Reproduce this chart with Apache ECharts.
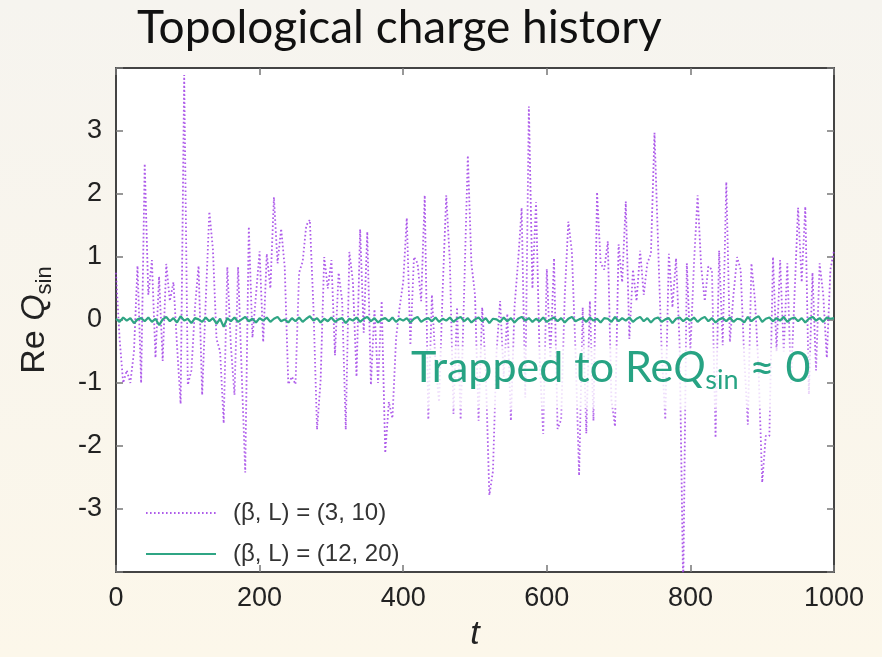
<!DOCTYPE html>
<html>
<head>
<meta charset="utf-8">
<script src="https://cdn.jsdelivr.net/npm/echarts@6/dist/echarts.min.js"></script>
<style>
html,body{margin:0;padding:0;}
#c{width:882px;height:657px;}
</style>
</head>
<body>
<div id="c"></div>
<script>
const T_STEP = 5;
const seriesNames = ['(β, L) = (3, 10)', '(β, L) = (12, 20)'];
const xTicks = [0, 200, 400, 600, 800, 1000];
const yTicks = [-3, -2, -1, 0, 1, 2, 3];

const qBeta3 = [
0.75,-0.3,-1.0,-0.8,-1.0,-0.5,0.86,-1.0,2.48,0.4,
0.95,-0.6,0.69,-0.65,0.89,0.3,0.6,-0.4,-1.33,3.89,
-1.03,-0.8,0.2,0.86,-1.19,0.3,1.72,1.12,-0.3,-0.5,
-1.64,0.84,-0.4,-1.19,0.84,-0.8,-2.42,1.48,-0.28,0.4,
1.09,-0.35,1.05,0.5,1.95,0.9,1.45,0.84,-1.02,-0.9,
-1.02,0.75,0.93,1.5,1.59,0.2,-1.74,-0.95,1.0,0.5,
0.95,-0.56,0.75,0.3,-1.74,1.08,0.6,-0.9,1.44,-0.2,
1.4,-1.03,0.17,-1.0,0.3,-2.11,-1.3,-1.56,-0.3,0.2,
0.6,1.62,-0.4,1.0,0.9,0.3,1.98,-1.58,0.4,-0.7,
-1.3,0.5,1.98,0.93,-1.49,0.2,-1.58,0.5,2.61,0.9,
0.4,-1.6,0.2,-0.8,-2.78,-2.4,-0.5,0.3,-0.9,0.1,
-1.6,0.2,0.93,1.78,-1.23,3.39,0.5,1.87,-0.6,-1.81,
0.81,-0.6,0.98,-1.73,-1.58,0.4,1.56,1.08,-0.5,-2.47,
0.2,-1.8,0.3,-1.6,2.03,0.9,0.8,1.25,-1.27,-1.69,
1.2,0.6,1.88,-0.3,0.8,0.3,1.1,0.4,0.9,1.05,
2.97,1.2,-0.5,-1.58,1.05,0.2,0.98,-0.4,-4.3,0.9,
-0.5,0.9,1.98,0.85,0.3,0.85,0.8,-1.87,1.1,-0.4,
2.19,-0.35,0.4,1.0,0.8,-0.6,-1.66,0.9,0.3,-0.8,
-2.58,-1.84,-1.84,1.0,-0.5,0.95,-0.5,0.9,-1.0,0.4,
1.78,0.6,1.8,-1.18,0.75,-0.8,0.9,0.4,-0.6,0.8,
1.1];

const qBeta12 = [
0.02,-0.03,0.04,-0.01,0.03,-0.05,0.01,0.03,-0.02,0.04,
-0.03,0.02,-0.08,0.01,0.05,-0.02,0.03,-0.04,0.06,-0.01,
0.02,-0.05,0.03,0.01,-0.03,0.04,-0.02,0.03,-0.06,0.02,
-0.11,0.03,-0.02,0.04,-0.03,0.01,0.05,-0.02,0.02,-0.04,
0.03,-0.01,0.04,-0.03,0.02,0.05,-0.02,0.01,-0.04,0.03,
-0.02,0.04,-0.03,0.02,0.06,-0.01,0.03,-0.04,0.02,-0.02,
0.04,-0.03,0.01,0.03,-0.05,0.02,-0.01,0.04,-0.03,0.02,
0.05,-0.02,0.03,-0.04,0.01,0.03,-0.02,0.04,-0.03,0.02,
-0.01,0.03,-0.04,0.02,0.05,-0.03,0.01,0.03,-0.02,0.04,
-0.03,0.02,-0.01,0.04,-0.03,0.02,0.05,-0.02,0.03,-0.04,
0.01,0.04,-0.02,0.03,-0.05,0.02,0.01,-0.03,0.04,-0.02,
0.03,-0.04,0.02,0.05,-0.01,0.03,-0.03,0.02,-0.02,0.04,
-0.03,0.01,0.04,-0.02,0.03,-0.04,0.02,0.05,-0.02,0.01,
0.03,-0.03,0.04,-0.01,0.02,-0.04,0.03,0.02,-0.03,0.05,
-0.02,0.03,-0.01,0.04,-0.03,0.02,0.05,-0.02,0.03,-0.04,
0.02,0.04,-0.03,0.01,0.03,-0.05,0.02,0.04,-0.02,0.03,
-0.01,0.04,-0.03,0.02,0.05,-0.02,0.03,-0.04,0.01,0.03,
-0.02,0.04,-0.03,0.02,0.01,-0.04,0.05,-0.02,0.03,0.06,
-0.03,0.02,0.04,-0.02,0.03,-0.01,0.05,-0.03,0.02,0.04,
-0.02,0.03,-0.04,0.02,0.05,-0.01,0.03,-0.03,0.04,0.02,
0.03];

const toPairs = arr => arr.map((v, i) => [i * T_STEP, v]);

const chart = echarts.init(document.getElementById('c'));
const PURPLE = '#a040e6';
const GREEN = '#2fa584';
const TXT = '#222';

const axisCommon = {
  type: 'value',
  axisLine: { show: true, onZero: false, lineStyle: { color: '#444', width: 2 } },
  axisTick: { show: true, inside: true, length: 7, lineStyle: { color: '#777', width: 1.5 } },
  splitLine: { show: false }
};

chart.setOption({
  backgroundColor: {
    type: 'linear', x: 0, y: 0, x2: 0, y2: 1,
    colorStops: [{ offset: 0, color: '#f6f4ef' }, { offset: 1, color: '#fcf7ea' }]
  },
  animation: false,
  grid: { left: 116, right: 48, top: 68, bottom: 80, show: true, backgroundColor: '#ffffff', borderWidth: 0 },
  legend: {
    orient: 'vertical', left: 140, top: 496, itemWidth: 70, itemHeight: 16, itemGap: 17,
    data: seriesNames,
    itemStyle: { opacity: 0 },
    textStyle: { fontFamily: 'Liberation Sans', fontSize: 24, color: '#333', padding: [0, 0, 0, 12] }
  },
  xAxis: [
    Object.assign({}, axisCommon, {
      min: 0, max: 1000, interval: 200, position: 'bottom',
      axisLabel: { fontFamily: 'Liberation Sans', fontSize: 27, color: TXT, margin: 13,
        formatter: v => xTicks.includes(v) ? String(v) : '' },
      name: 't', nameLocation: 'middle', nameGap: 46,
      nameTextStyle: { fontFamily: 'Liberation Sans', fontStyle: 'italic', fontSize: 34, color: TXT }
    }),
    Object.assign({}, axisCommon, { min: 0, max: 1000, interval: 200, position: 'top', axisLabel: { show: false } })
  ],
  yAxis: [
    Object.assign({}, axisCommon, {
      min: -4, max: 4, interval: 1, position: 'left',
      axisLabel: { fontFamily: 'Liberation Sans', fontSize: 27, color: TXT, margin: 14,
        formatter: v => yTicks.includes(v) ? String(v) : '' },
      name: '{n|Re }{q|Q}{s|sin}', nameLocation: 'middle', nameGap: 60, nameRotate: 90,
      nameTextStyle: {
        color: TXT,
        rich: {
          n: { fontFamily: 'Liberation Sans', fontSize: 34, color: TXT, lineHeight: 42, verticalAlign: 'middle' },
          q: { fontFamily: 'Liberation Sans', fontStyle: 'italic', fontSize: 34, color: TXT, lineHeight: 42, verticalAlign: 'middle' },
          s: { fontFamily: 'Liberation Sans', fontSize: 22, color: TXT, lineHeight: 20, verticalAlign: 'bottom' }
        }
      }
    }),
    Object.assign({}, axisCommon, { min: -4, max: 4, interval: 1, position: 'right', axisLabel: { show: false } })
  ],
  series: [
    {
      name: seriesNames[0], type: 'line', data: toPairs(qBeta3), symbol: 'none', clip: true,
      lineStyle: { color: PURPLE, width: 1.8, type: [1.6, 2.4], opacity: 0.85 },
      itemStyle: { color: PURPLE }, z: 2
    },
    {
      name: seriesNames[1], type: 'line', data: toPairs(qBeta12), symbol: 'none', clip: true,
      lineStyle: { color: GREEN, width: 2.2 },
      itemStyle: { color: GREEN }, z: 3
    }
  ],
  graphic: [
    {
      type: 'text', left: 137, top: 5, z: 10,
      style: { text: 'Topological charge history', fontFamily: 'Lato', fontSize: 46, fill: '#111' }
    },
    {
      type: 'rect', shape: { x: 408, y: 348, width: 404, height: 60, r: 12 }, z: 8,
      style: { fill: 'rgba(255,255,255,0.6)', shadowBlur: 18, shadowColor: 'rgba(255,255,255,0.9)' }
    },
    {
      type: 'text', left: 411, top: 347, z: 10,
      style: {
        text: '{n|Trapped to Re}{q|Q}{s|sin}{n| ≈ 0}',
        rich: {
          n: { fontFamily: 'Lato', fontSize: 43, fill: '#27a383', lineHeight: 50, verticalAlign: 'middle' },
          q: { fontFamily: 'Lato', fontStyle: 'italic', fontSize: 43, fill: '#27a383', lineHeight: 50, verticalAlign: 'middle' },
          s: { fontFamily: 'Lato', fontSize: 27, fill: '#27a383', lineHeight: 24, verticalAlign: 'bottom' }
        }
      }
    }
  ]
});
</script>
</body>
</html>
